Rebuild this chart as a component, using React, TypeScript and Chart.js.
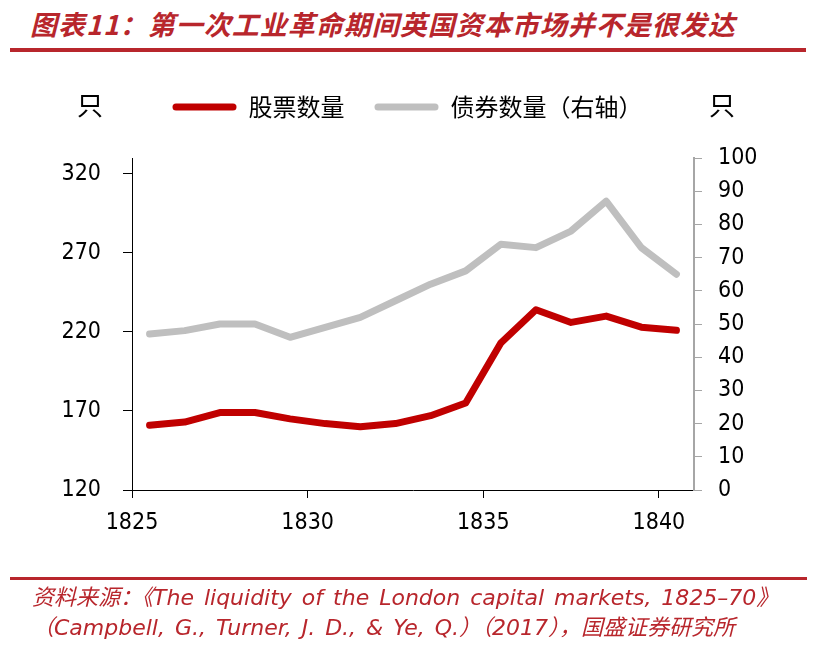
import { useEffect, useRef } from "react";
import { Chart, registerables } from "chart.js";

Chart.register(...registerables);

// 数据
const years = [1825, 1826, 1827, 1828, 1829, 1830, 1831, 1832, 1833, 1834, 1835, 1836, 1837, 1838, 1839, 1840];
const stockCount = [161, 163, 169, 169, 165, 162, 160, 162, 167, 175, 213, 234, 226, 230, 223, 221];
const bondCount = [47, 48, 50, 50, 46, 49, 52, 57, 62, 66, 74, 73, 78, 87, 73, 65];
const xTicks = [1825, 1830, 1835, 1840];
const leftTicks = [120, 170, 220, 270, 320];
const rightTicks = [0, 10, 20, 30, 40, 50, 60, 70, 80, 90, 100];

const RED = "#C00000";
const GRAY = "#BFBFBF";
const AXIS_GRAY = "#A6A6A6";
const BRAND_RED = "#B8262C";
const NUM_FONT = "'DejaVu Sans Condensed', 'Liberation Sans', sans-serif";
const CJK_FONT = "'Noto Sans CJK SC', sans-serif";

// 图例和绘图区之间留出空白
const legendGap = {
  id: "legendGap",
  beforeLayout(chart: any) {
    const legend = chart.legend;
    if (!legend || legend._gapPatched) return;
    const fit = legend.fit;
    legend.fit = function () {
      fit.call(this);
      this.height += 29;
    };
    legend._gapPatched = true;
  },
};

// 左右轴单位
const unitLabels = {
  id: "unitLabels",
  afterDraw(chart: any) {
    const { ctx, chartArea } = chart;
    ctx.save();
    ctx.font = "26px " + CJK_FONT;
    ctx.fillStyle = "#000";
    ctx.textAlign = "center";
    ctx.textBaseline = "middle";
    ctx.fillText("只", chartArea.left - 42, chartArea.top - 53);
    ctx.fillText("只", chartArea.right + 28, chartArea.top - 53);
    ctx.restore();
  },
};

export default function App() {
  const chartRef = useRef<HTMLCanvasElement | null>(null);
  const chartInstanceRef = useRef<Chart | null>(null);

  useEffect(() => {
    if (!chartRef.current) return;
    const ctx = chartRef.current.getContext("2d");
    if (!ctx) return;
    if (chartInstanceRef.current) chartInstanceRef.current.destroy();

    chartInstanceRef.current = new Chart(ctx, {
      type: "line",
      data: {
        datasets: [
          {
            label: "股票数量",
            data: years.map((y, i) => ({ x: y + 0.5, y: stockCount[i] })),
            borderColor: RED,
            backgroundColor: RED,
            borderWidth: 7,
            borderJoinStyle: "round",
            borderCapStyle: "round",
            pointRadius: 0,
            yAxisID: "y",
          },
          {
            label: "债券数量（右轴）",
            data: years.map((y, i) => ({ x: y + 0.5, y: bondCount[i] })),
            borderColor: GRAY,
            backgroundColor: GRAY,
            borderWidth: 7,
            borderJoinStyle: "round",
            borderCapStyle: "round",
            pointRadius: 0,
            yAxisID: "y1",
          },
        ],
      },
      options: {
        animation: false,
        responsive: false,
        layout: { padding: { top: 65, left: 0, right: 0, bottom: 99 } },
        plugins: {
          tooltip: { enabled: false },
          legend: {
            position: "top",
            labels: {
              boxWidth: 64,
              boxHeight: 7,
              padding: 30,
              useBorderRadius: true,
              borderRadius: 3.5,
              color: "#000",
              font: { family: CJK_FONT, size: 24 },
              generateLabels: (chart: any) =>
                Chart.defaults.plugins.legend.labels
                  .generateLabels(chart)
                  .map((item: any) => ({ ...item, lineWidth: 0 })),
            },
          },
        },
        scales: {
          x: {
            type: "linear",
            min: 1825,
            max: 1841,
            afterBuildTicks: (scale: any) => {
              scale.ticks = xTicks.map((v) => ({ value: v }));
            },
            afterFit: (scale: any) => {
              scale.height = 60;
            },
            grid: { drawOnChartArea: false, tickLength: 8, color: "#000" },
            border: { color: "#000", width: 1 },
            ticks: {
              color: "#000",
              padding: 11,
              font: { family: NUM_FONT, size: 23 },
              callback: (v: any) => String(v),
            },
          },
          y: {
            position: "left",
            min: 120,
            max: 330,
            afterBuildTicks: (scale: any) => {
              scale.ticks = leftTicks.map((v) => ({ value: v }));
            },
            afterFit: (scale: any) => {
              scale.width = 132;
            },
            grid: { drawOnChartArea: false, tickLength: 9, color: "#000" },
            border: { color: "#000", width: 1 },
            ticks: {
              color: "#000",
              padding: 22,
              font: { family: NUM_FONT, size: 23 },
            },
          },
          y1: {
            position: "right",
            min: 0,
            max: 100,
            afterBuildTicks: (scale: any) => {
              scale.ticks = rightTicks.map((v) => ({ value: v }));
            },
            afterFit: (scale: any) => {
              scale.width = 121;
            },
            grid: { drawOnChartArea: false, tickLength: 8, color: AXIS_GRAY },
            border: { color: AXIS_GRAY, width: 2 },
            ticks: {
              color: "#000",
              padding: 16,
              font: { family: NUM_FONT, size: 23 },
            },
          },
        },
      } as any,
      plugins: [legendGap, unitLabels],
    });

    return () => {
      if (chartInstanceRef.current) {
        chartInstanceRef.current.destroy();
        chartInstanceRef.current = null;
      }
    };
  }, []);

  const sourceStyle: React.CSSProperties = {
    position: "absolute",
    left: 32,
    fontFamily: "'DejaVu Sans', 'Noto Sans CJK SC', sans-serif",
    fontStyle: "italic",
    fontSize: 22,
    lineHeight: "26px",
    wordSpacing: 3,
    color: BRAND_RED,
    whiteSpace: "nowrap",
  };

  return (
    <div style={{ position: "absolute", left: 0, top: 0, width: 815, height: 649, background: "#fff", overflow: "hidden" }}>
      <div
        style={{
          position: "absolute",
          left: 30,
          top: 8,
          fontFamily: CJK_FONT,
          fontWeight: 700,
          fontStyle: "italic",
          fontSize: 27,
          lineHeight: "32px",
          letterSpacing: 1,
          color: BRAND_RED,
          whiteSpace: "nowrap",
        }}
      >
        图表11：第一次工业革命期间英国资本市场并不是很发达
      </div>
      <div style={{ position: "absolute", left: 10, top: 48, width: 796, height: 4, background: BRAND_RED }} />
      <canvas ref={chartRef} width={815} height={649} style={{ position: "absolute", left: 0, top: 0, width: 815, height: 649 }} />
      <div style={{ position: "absolute", left: 10, top: 577, width: 797, height: 3, background: BRAND_RED }} />
      <div style={{ ...sourceStyle, top: 585 }}>
        资料来源：《The liquidity of the London capital markets, 1825–70》
      </div>
      <div style={{ ...sourceStyle, top: 615 }}>
        （Campbell, G., Turner, J. D., &amp; Ye, Q.）（2017），国盛证券研究所
      </div>
    </div>
  );
}
